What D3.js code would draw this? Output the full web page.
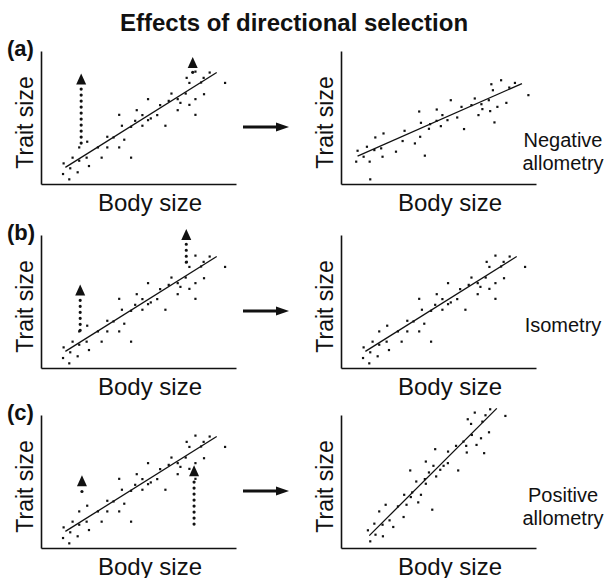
<!DOCTYPE html>
<html>
<head>
<meta charset="utf-8">
<script src="https://cdn.jsdelivr.net/npm/d3@7"></script>
<style>
  body { margin: 0; background: #fff; }
  text { font-family: "Liberation Sans", Arial, sans-serif; fill: #111; }
</style>
</head>
<body>
<svg width="608" height="578"></svg>
<script>
// -------------------------------------
// chart text
const title = "Effects of directional selection";
const panelLetters = ["(a)", "(b)", "(c)"];
const outcomeLabels = [["Negative", "allometry"], ["Isometry"], ["Positive", "allometry"]];
const xLabel = "Body size";
const yLabel = "Trait size";

// population before selection (same in all three left panels), units 0-100
const baseX = [11.6, 11.3, 14.5, 15.0, 16.2, 18.8, 19.6, 19.6, 23.4, 23.7, 24.6, 29.2, 31.1, 34.0, 34.0, 37.2,
  40.1, 40.1, 41.5, 42.7, 46.2, 46.2, 48.3, 49.1, 52.0, 52.0, 54.9, 54.9, 56.3, 59.6, 61.1, 63.8, 65.5,
  66.9, 70.1, 70.1, 71.5, 74.2, 74.7, 76.1, 76.1, 79.2, 79.2, 79.2, 82.1, 83.4, 83.6, 86.5, 94.4];
const baseY = [15.5, 7.5, 3.5, 11.8, 19.8, 8.8, 17.5, 27.5, 19.8, 31.8, 13.5, 27.5, 19.8, 35.5, 27.5, 35.0,
  52.0, 27.5, 43.8, 33.3, 19.8, 43.0, 47.5, 55.5, 51.8, 43.8, 63.8, 48.0, 49.3, 51.8, 59.3, 43.8, 62.5,
  68.0, 63.8, 55.5, 61.0, 68.0, 79.8, 76.0, 59.5, 84.5, 63.8, 52.0, 76.3, 79.8, 67.5, 83.8, 76.0];
const baseLine = [[12.5, 12.5], [90.1, 83.8]];

// selection arrows on the left panels: [x, from, to]
const selectionArrows = [
  [[20.6, 30.8, 83.0], [77.8, 84.0, 95.5]],
  [[20.1, 28.3, 62.8], [74.5, 79.5, 104.6]],
  [[21.0, 42.5, 54.7], [78.5, 18.0, 62.2]],
];

// (a) negative allometry after selection
const negX = [7.8, 8.5, 11.6, 13.3, 14.7, 15.0, 17.1, 17.6, 20.6, 21.3, 21.8, 28.2, 31.6, 32.6, 37.9, 40.1,
  40.6, 41.0, 43.0, 45.1, 45.7, 49.1, 49.0, 51.2, 52.0, 54.6, 56.3, 59.6, 61.8, 63.1, 66.9, 68.6, 70.5,
  72.0, 72.5, 75.8, 76.5, 77.1, 77.9, 78.7, 80.2, 82.1, 84.8, 86.3, 89.2, 96.1];
const negY = [16.8, 25.0, 20.5, 28.0, 16.8, 3.5, 25.5, 35.0, 26.8, 20.5, 38.0, 24.3, 32.3, 40.0, 30.5, 54.5,
  35.5, 46.0, 21.3, 41.5, 45.0, 56.0, 47.5, 43.5, 51.8, 48.0, 63.0, 50.0, 58.0, 41.3, 59.3, 64.3, 51.8,
  60.0, 56.3, 63.0, 54.8, 75.0, 70.5, 46.3, 58.0, 78.0, 61.0, 72.5, 76.0, 66.8];
const negLine = [[8.5, 21.0], [92.8, 75.5]];

// (c) positive allometry after selection
const posX = [13.8, 15.0, 17.1, 17.7, 19.6, 21.3, 21.5, 22.9, 24.9, 26.8, 29.2, 32.1, 32.4, 33.6, 35.5, 35.8,
  36.5, 38.6, 39.6, 41.0, 43.0, 43.5, 43.5, 45.1, 46.8, 47.4, 48.3, 48.8, 50.9, 52.6, 54.8, 54.9, 59.0,
  60.1, 62.8, 64.2, 64.5, 65.0, 66.7, 67.1, 69.5, 68.6, 71.8, 72.5, 73.4, 74.1, 75.9, 76.5, 84.3];
const posY = [13.3, 5.0, 18.3, 10.0, 27.5, 17.5, 8.8, 32.5, 20.8, 15.8, 31.3, 23.3, 40.0, 32.5, 58.3, 38.3,
  41.8, 50.0, 34.3, 40.0, 51.8, 65.0, 48.3, 56.8, 28.8, 61.8, 74.3, 53.8, 58.8, 61.8, 63.8, 72.5, 76.8,
  58.3, 80.0, 76.8, 71.8, 96.8, 93.3, 85.0, 77.5, 101.8, 82.5, 95.0, 71.3, 99.8, 87.0, 104.3, 99.3];
const posLine = [[14.5, 9.3], [79.9, 105.0]];
// -------------------------------------

const svg = d3.select("svg");
const panelW = 195;
const panelH = 133;
const rowBottoms = [184, 368, 548];
const leftX = 41;
const rightX = 341;

const afterSets = [
  { xs: negX, ys: negY, line: negLine },
  { xs: baseX, ys: baseY, line: baseLine }, // isometry: same pattern as before
  { xs: posX, ys: posY, line: posLine },
];

// title
svg.append("text")
  .attr("x", 294)
  .attr("y", 31)
  .attr("text-anchor", "middle")
  .style("font-size", "24px")
  .style("font-weight", "bold")
  .text(title);

// one scatter panel
function drawPanel(x0, bottom, xs, ys, line) {
  const xScale = d3.scaleLinear().domain([0, 100]).range([x0, x0 + panelW]);
  const yScale = d3.scaleLinear().domain([0, 100]).range([bottom, bottom - panelH]);
  const g = svg.append("g");

  // axes, bare lines only
  g.append("g")
    .attr("transform", "translate(0," + bottom + ")")
    .call(d3.axisBottom(xScale).ticks(0).tickSizeOuter(0));
  g.append("g")
    .attr("transform", "translate(" + x0 + ",0)")
    .call(d3.axisLeft(yScale).ticks(0).tickSizeOuter(0));
  g.selectAll(".domain").attr("stroke", "#111").attr("stroke-width", 1.6);

  // points
  g.selectAll("rect.pt")
    .data(d3.zip(xs, ys))
    .enter()
    .append("rect")
    .attr("class", "pt")
    .attr("x", (d) => xScale(d[0]) - 1.1)
    .attr("y", (d) => yScale(d[1]) - 1.1)
    .attr("width", 2.2)
    .attr("height", 2.2)
    .attr("fill", "#111");

  // fitted line
  g.append("line")
    .attr("x1", xScale(line[0][0]))
    .attr("y1", yScale(line[0][1]))
    .attr("x2", xScale(line[1][0]))
    .attr("y2", yScale(line[1][1]))
    .attr("stroke", "#111")
    .attr("stroke-width", 1.3);

  // axis titles
  g.append("text")
    .attr("x", x0 + 109)
    .attr("y", bottom + 27)
    .attr("text-anchor", "middle")
    .style("font-size", "24px")
    .text(xLabel);
  g.append("text")
    .attr("text-anchor", "middle")
    .attr("transform", "translate(" + (x0 - 8) + "," + (bottom - panelH / 2 + 5) + ")rotate(-90)")
    .style("font-size", "23px")
    .text(yLabel);

  return { g, xScale, yScale };
}

rowBottoms.forEach((bottom, i) => {
  // before selection
  const left = drawPanel(leftX, bottom, baseX, baseY, baseLine);

  // dotted selection arrows
  selectionArrows[i].forEach((a) => {
    const ax = left.xScale(a[0]);
    const tipY = left.yScale(a[2]);
    left.g.append("line")
      .attr("x1", ax)
      .attr("x2", ax)
      .attr("y1", left.yScale(a[1]))
      .attr("y2", tipY + 13)
      .attr("stroke", "#111")
      .attr("stroke-width", 3.2)
      .attr("stroke-linecap", "round")
      .attr("stroke-dasharray", "0,6");
    left.g.append("path")
      .attr("d", `M${ax},${tipY} L${ax + 5},${tipY + 11} L${ax - 5},${tipY + 11} Z`)
      .attr("fill", "#111");
  });

  // after selection
  const s = afterSets[i];
  drawPanel(rightX, bottom, s.xs, s.ys, s.line);

  // panel letter
  svg.append("text")
    .attr("x", 7)
    .attr("y", bottom - panelH + 5)
    .style("font-size", "22px")
    .style("font-weight", "bold")
    .text(panelLetters[i]);

  // arrow between panels
  const ay = bottom - 57;
  svg.append("line")
    .attr("x1", 243)
    .attr("x2", 278)
    .attr("y1", ay)
    .attr("y2", ay)
    .attr("stroke", "#111")
    .attr("stroke-width", 3);
  svg.append("path")
    .attr("d", `M289,${ay} L276,${ay - 4.5} L276,${ay + 4.5} Z`)
    .attr("fill", "#111");

  // outcome label
  const lines = outcomeLabels[i];
  const firstY = lines.length === 1 ? bottom - 36 : (i === 0 ? bottom - 37 : bottom - 46);
  lines.forEach((t, k) => {
    svg.append("text")
      .attr("x", 563)
      .attr("y", firstY + k * 23)
      .attr("text-anchor", "middle")
      .style("font-size", "20px")
      .text(t);
  });
});
</script>
</body>
</html>
